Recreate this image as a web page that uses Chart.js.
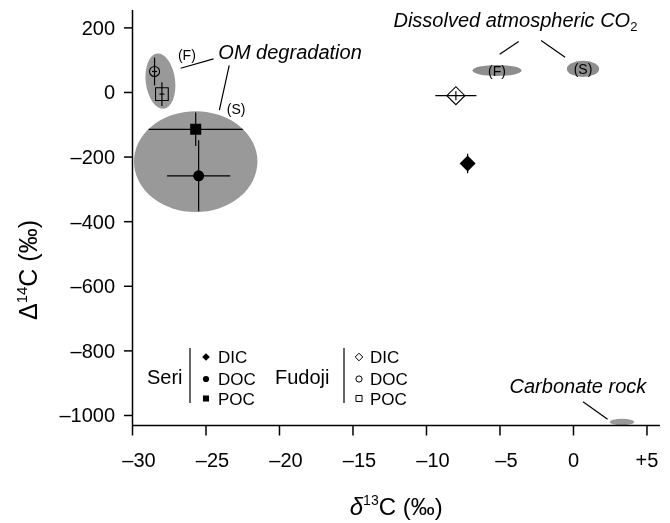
<!DOCTYPE html>
<html><head><meta charset="utf-8">
<script src="https://cdn.jsdelivr.net/npm/chart.js@4.4.0/dist/chart.umd.min.js"></script>
<style>html,body{margin:0;padding:0;background:#fff;}canvas{display:block;}</style>
</head><body>
<canvas id="c" width="670" height="523"></canvas>
<script>
// ---- data ----
const sampleNames = ['Seri DIC','Seri DOC','Seri POC','Fudoji DIC','Fudoji DOC','Fudoji POC'];
const d13C    = [-7.2, -25.5, -25.7, -8.0, -28.5, -28.0];
const D14C    = [-220, -258, -114, -10, 65, -5];
const d13CErr = [0, 2.15, 3.2, 1.4, 0.17, 0.17];
const D14CErr = [30, 110, 52, 14, 43, 37];

const fieldLabels = ['(F)','(S)','(F)','(S)',''];
const fieldX     = [-28.1, -25.7, -5.2, 0.65, 3.3];
const fieldY     = [35, -214, 68, 73, -1020];
const fieldHalfX = [1.0, 4.2, 1.67, 1.1, 0.83];
const fieldHalfY = [86, 156, 17, 25, 10];
const fieldTilt  = [-0.12, 0, 0, 0, 0];

const xTicks = [-30,-25,-20,-15,-10,-5,0,5];
const xTickLabels = ['–30','–25','–20','–15','–10','–5','0','+5'];
const yTicks = [200,0,-200,-400,-600,-800,-1000];
const yTickLabels = ['200','0','–200','–400','–600','–800','–1000'];

const legendGroups = ['Seri','Fudoji'];
const legendItems = ['DIC','DOC','POC'];

// ---- helpers ----
const FAM = '"Liberation Sans", Arial, Helvetica, sans-serif';
function fnt(size, italic){ return (italic ? 'italic ' : '') + size + 'px ' + FAM; }
function rich(ctx, segs, x, y, align){
  let w = 0;
  segs.forEach(s => { ctx.font = fnt(s[1], s[2]); w += ctx.measureText(s[0]).width; });
  let sx = align === 'center' ? x - w/2 : (align === 'right' ? x - w : x);
  ctx.textAlign = 'left'; ctx.textBaseline = 'alphabetic';
  segs.forEach(s => { ctx.font = fnt(s[1], s[2]); ctx.fillText(s[0], sx, y + (s[3] || 0)); sx += ctx.measureText(s[0]).width; });
  return w;
}
function line(ctx, x1, y1, x2, y2, w){
  ctx.beginPath(); ctx.lineWidth = w || 1.2; ctx.moveTo(x1, y1); ctx.lineTo(x2, y2); ctx.stroke();
}
function marker(ctx, style, x, y, r, filled){
  ctx.beginPath();
  if (style === 'rectRot'){ ctx.moveTo(x, y-r); ctx.lineTo(x+r, y); ctx.lineTo(x, y+r); ctx.lineTo(x-r, y); ctx.closePath(); }
  else if (style === 'circle'){ ctx.arc(x, y, r, 0, Math.PI*2); }
  else { const h = r*Math.SQRT1_2; ctx.rect(x-h, y-h, 2*h, 2*h); }
  if (filled){ ctx.fill(); } else { ctx.lineWidth = 1; ctx.stroke(); }
}

const styles = ['rectRot','circle','rect','rectRot','circle','rect'];
const radii  = [8, 5.5, 7.8, 9, 5, 9];
const filled = [true, true, true, false, false, false];

const custom = {
  id: 'custom',
  beforeDatasetsDraw(chart){
    const ctx = chart.ctx, X = chart.scales.x, Y = chart.scales.y;
    ctx.save();
    for (let i = 0; i < fieldX.length; i++){
      const cx = X.getPixelForValue(fieldX[i]), cy = Y.getPixelForValue(fieldY[i]);
      const rx = Math.abs(X.getPixelForValue(fieldX[i] + fieldHalfX[i]) - cx);
      const ry = Math.abs(Y.getPixelForValue(fieldY[i] + fieldHalfY[i]) - cy);
      ctx.fillStyle = i >= 2 && i <= 3 ? '#8e8e8e' : '#999999';
      ctx.beginPath(); ctx.ellipse(cx, cy, rx, ry, fieldTilt[i], 0, Math.PI*2); ctx.fill();
      if (fieldLabels[i] && i >= 2){
        ctx.fillStyle = '#000';
        rich(ctx, [[fieldLabels[i], 14, false]], cx, cy + 5, 'center');
      }
    }
    ctx.strokeStyle = '#000';
    for (let i = 0; i < d13C.length; i++){
      const cx = X.getPixelForValue(d13C[i]), cy = Y.getPixelForValue(D14C[i]);
      if (d13CErr[i]) line(ctx, X.getPixelForValue(d13C[i]-d13CErr[i]), cy, X.getPixelForValue(d13C[i]+d13CErr[i]), cy, 1.2);
      if (D14CErr[i]) line(ctx, cx, Y.getPixelForValue(D14C[i]-D14CErr[i]), cx, Y.getPixelForValue(D14C[i]+D14CErr[i]), 1.2);
    }
    ctx.restore();
  },
  afterDatasetsDraw(chart){
    const ctx = chart.ctx, X = chart.scales.x, Y = chart.scales.y, A = chart.chartArea;
    ctx.save();
    ctx.strokeStyle = '#000'; ctx.fillStyle = '#000';
    line(ctx, A.left, A.top, A.left, A.bottom, 1.5);
    line(ctx, A.left, A.bottom, A.right, A.bottom, 1.5);
    yTicks.forEach((v, i) => {
      const py = Y.getPixelForValue(v);
      line(ctx, A.left - 8.5, py, A.left, py, 1.5);
      rich(ctx, [[yTickLabels[i], 20, false]], A.left - 17.5, py + 7, 'right');
    });
    xTicks.forEach((v, i) => {
      const px = X.getPixelForValue(v);
      line(ctx, px, A.bottom, px, A.bottom + 10, 1.5);
      const off = xTickLabels[i].charAt(0) === '–' ? 6.5 : 0;
      rich(ctx, [[xTickLabels[i], 20, false]], px + off, A.bottom + 41.5, 'center');
    });
    rich(ctx, [['δ', 24, true], ['13', 14, false, -10], ['C (‰)', 24, false]], (A.left + A.right)/2, 515, 'center');
    ctx.save();
    ctx.translate(28, 270); ctx.rotate(-Math.PI/2);
    rich(ctx, [['Δ', 25, false], ['14', 15, false, -10], ['C (‰)', 25, false]], 0, 9, 'center');
    ctx.restore();

    const px = v => X.getPixelForValue(v), py = v => Y.getPixelForValue(v);
    rich(ctx, [['OM degradation', 20, true]], px(-24.16), py(103), 'left');
    rich(ctx, [['(F)', 14, false]], px(-26.3), py(116) + 5, 'center');
    rich(ctx, [['(S)', 14, false]], px(-22.95), py(-50) + 5, 'center');
    line(ctx, px(-26.72), py(75), px(-24.49), py(104), 1.2);
    line(ctx, px(-23.42), py(84), px(-24.09), py(-55), 1.2);

    rich(ctx, [['Dissolved atmospheric CO', 20, true], ['2', 13, false, 4]], px(4.35), py(201.5), 'right');
    line(ctx, px(-3.73), py(158), px(-5.02), py(118), 1.2);
    line(ctx, px(-2.2), py(161), px(-0.57), py(109), 1.2);

    rich(ctx, [['Carbonate rock', 20, true]], px(-4.35), py(-931), 'left');
    line(ctx, px(0.65), py(-957.5), px(2.32), py(-1011.7), 1.2);

    const groupX = [147, 275], sepX = [190, 344], markX = [206, 359], labX = [218, 370];
    const rowY = [357, 379, 398.5];
    const lStyles = ['rectRot','circle','rect'], lR = [3.8, 3.1, 4.3];
    legendGroups.forEach((g, gi) => {
      rich(ctx, [[g, 20, false]], groupX[gi], 384, 'left');
      line(ctx, sepX[gi], 348, sepX[gi], 403, 1.2);
      legendItems.forEach((it, k) => {
        marker(ctx, lStyles[k], markX[gi], rowY[k], lR[k], gi === 0);
        rich(ctx, [[it, 17, false]], labX[gi], rowY[k] + 6, 'left');
      });
    });
    ctx.restore();
  }
};

const datasets = sampleNames.map((n, i) => ({
  label: n,
  data: [{x: d13C[i], y: D14C[i]}],
  pointStyle: styles[i],
  pointRadius: radii[i],
  pointBackgroundColor: filled[i] ? '#000' : 'rgba(0,0,0,0)',
  pointBorderColor: '#000',
  pointBorderWidth: filled[i] ? 0 : 1.1
}));

new Chart(document.getElementById('c'), {
  type: 'scatter',
  data: { datasets },
  options: {
    responsive: false, animation: false, devicePixelRatio: 1, events: [],
    layout: { padding: { left: 132.5, top: 7, right: 0, bottom: 97.5 } },
    plugins: { legend: { display: false }, tooltip: { enabled: false } },
    scales: {
      x: { type: 'linear', display: false, min: -30, max: 5.88 },
      y: { type: 'linear', display: false, min: -1031, max: 255 }
    }
  },
  plugins: [custom]
});
</script>
</body></html>
